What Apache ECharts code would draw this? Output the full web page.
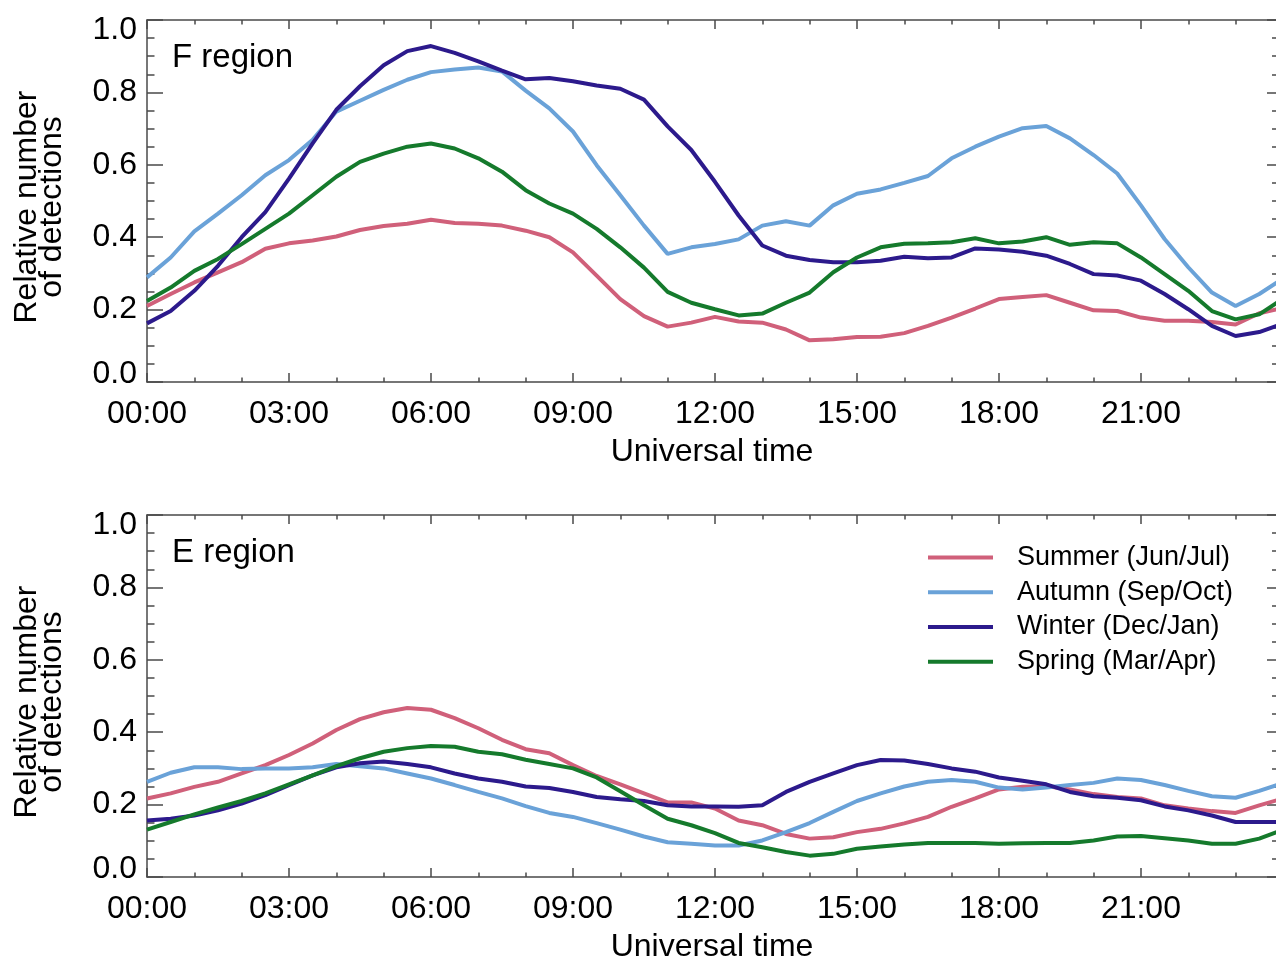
<!DOCTYPE html>
<html>
<head>
<meta charset="utf-8">
<title>Relative number of detections</title>
<script src="https://cdn.jsdelivr.net/npm/echarts@6/dist/echarts.min.js"></script>
<style>
  html, body { margin: 0; padding: 0; background: #fff; }
  #chartDiv { width: 1276px; height: 958px; }
</style>
</head>
<body>
<div id="chartDiv"></div>
<script>
// universal time (hours)
var hours = [0, 0.5, 1, 1.5, 2, 2.5, 3, 3.5, 4, 4.5, 5, 5.5, 6, 6.5, 7, 7.5, 8, 8.5, 9, 9.5,
    10, 10.5, 11, 11.5, 12, 12.5, 13, 13.5, 14, 14.5, 15, 15.5, 16, 16.5, 17, 17.5, 18, 18.5, 19, 19.5,
    20, 20.5, 21, 21.5, 22, 22.5, 23, 23.5, 23.875];

var seasonNames = ['Summer (Jun/Jul)', 'Autumn (Sep/Oct)', 'Winter (Dec/Jan)', 'Spring (Mar/Apr)'];

// F region
var fSummer = [0.210, 0.243, 0.275, 0.303, 0.331, 0.368, 0.383, 0.391, 0.402, 0.420, 0.431, 0.437, 0.448, 0.439, 0.437, 0.432, 0.418, 0.400, 0.358, 0.294,
    0.229, 0.182, 0.153, 0.164, 0.180, 0.167, 0.164, 0.145, 0.115, 0.118, 0.124, 0.125, 0.135, 0.155, 0.178, 0.203, 0.229, 0.235, 0.240, 0.219,
    0.198, 0.196, 0.178, 0.169, 0.169, 0.166, 0.159, 0.190, 0.201];
var fAutumn = [0.289, 0.344, 0.416, 0.465, 0.516, 0.571, 0.613, 0.669, 0.747, 0.777, 0.807, 0.835, 0.856, 0.863, 0.869, 0.858, 0.805, 0.756, 0.692, 0.599,
    0.516, 0.432, 0.354, 0.372, 0.381, 0.394, 0.432, 0.444, 0.432, 0.488, 0.520, 0.532, 0.550, 0.569, 0.618, 0.650, 0.678, 0.701, 0.707, 0.673,
    0.627, 0.576, 0.488, 0.395, 0.317, 0.247, 0.210, 0.243, 0.275];
var fWinter = [0.162, 0.196, 0.252, 0.321, 0.400, 0.469, 0.562, 0.659, 0.752, 0.817, 0.875, 0.914, 0.928, 0.909, 0.886, 0.860, 0.836, 0.840, 0.831, 0.819,
    0.810, 0.780, 0.706, 0.641, 0.553, 0.460, 0.377, 0.349, 0.337, 0.331, 0.331, 0.335, 0.346, 0.342, 0.344, 0.369, 0.366, 0.360, 0.349, 0.326,
    0.298, 0.294, 0.280, 0.243, 0.201, 0.155, 0.127, 0.138, 0.155];
var fSpring = [0.224, 0.261, 0.307, 0.340, 0.381, 0.423, 0.465, 0.516, 0.567, 0.608, 0.631, 0.650, 0.659, 0.645, 0.618, 0.581, 0.530, 0.493, 0.465, 0.423,
    0.372, 0.316, 0.249, 0.219, 0.201, 0.184, 0.189, 0.219, 0.247, 0.303, 0.344, 0.372, 0.382, 0.383, 0.386, 0.397, 0.383, 0.388, 0.400, 0.379,
    0.386, 0.383, 0.344, 0.298, 0.252, 0.196, 0.173, 0.187, 0.219];

// E region
var eSummer = [0.217, 0.231, 0.249, 0.263, 0.286, 0.309, 0.337, 0.369, 0.406, 0.436, 0.455, 0.467, 0.462, 0.439, 0.411, 0.379, 0.353, 0.342, 0.309, 0.279,
    0.256, 0.231, 0.206, 0.206, 0.189, 0.156, 0.143, 0.119, 0.106, 0.110, 0.124, 0.133, 0.148, 0.166, 0.194, 0.217, 0.242, 0.249, 0.251, 0.242,
    0.229, 0.221, 0.217, 0.198, 0.189, 0.182, 0.177, 0.198, 0.212];
var eAutumn = [0.263, 0.288, 0.303, 0.303, 0.298, 0.300, 0.300, 0.303, 0.312, 0.306, 0.300, 0.286, 0.272, 0.254, 0.235, 0.217, 0.196, 0.177, 0.166, 0.149,
    0.131, 0.112, 0.096, 0.092, 0.087, 0.087, 0.101, 0.124, 0.149, 0.180, 0.210, 0.231, 0.250, 0.263, 0.268, 0.263, 0.247, 0.242, 0.247, 0.254,
    0.260, 0.272, 0.268, 0.254, 0.238, 0.223, 0.219, 0.238, 0.254];
var eWinter = [0.156, 0.161, 0.170, 0.184, 0.203, 0.226, 0.254, 0.281, 0.303, 0.314, 0.319, 0.312, 0.303, 0.286, 0.272, 0.263, 0.250, 0.246, 0.235, 0.221,
    0.215, 0.210, 0.198, 0.195, 0.195, 0.194, 0.198, 0.235, 0.263, 0.286, 0.309, 0.323, 0.322, 0.312, 0.300, 0.291, 0.275, 0.266, 0.256, 0.235,
    0.223, 0.219, 0.212, 0.195, 0.184, 0.170, 0.152, 0.152, 0.152];
var eSpring = [0.131, 0.152, 0.173, 0.192, 0.210, 0.231, 0.256, 0.281, 0.306, 0.328, 0.346, 0.356, 0.362, 0.360, 0.346, 0.339, 0.324, 0.312, 0.300, 0.275,
    0.237, 0.198, 0.161, 0.143, 0.121, 0.094, 0.082, 0.069, 0.059, 0.064, 0.078, 0.084, 0.090, 0.094, 0.094, 0.094, 0.092, 0.093, 0.094, 0.094,
    0.101, 0.112, 0.113, 0.107, 0.101, 0.092, 0.092, 0.106, 0.124];

var colors = ['#d0607a', '#6aa2d8', '#2c1a8c', '#157a2c'];
var font = 'Liberation Sans';
var axisColor = '#4a4a4a';

function pairs(values){
    var out = [];
    for(var i = 0; i < hours.length; i++){
        out.push([hours[i], values[i]]);
    }
    return out;
}

function pad2(n){
    return (n < 10 ? '0' : '') + n;
}

function yLabel(v){
    // IDL keeps the end labels inside the frame
    if(v >= 0.999) return '{top|1.0}';
    if(v <= 0.001) return '{bot|0.0}';
    return v.toFixed(1);
}

var yRich = {
    top: {fontFamily: font, fontSize: 32, color: '#000', padding: [20, 0, 0, 0]},
    bot: {fontFamily: font, fontSize: 32, color: '#000', padding: [0, 0, 16, 0]}
};

function bottomXAxis(gridIndex){
    return {
        type: 'value', gridIndex: gridIndex, position: 'bottom',
        min: 0, max: 23.875, interval: 3,
        name: 'Universal time', nameLocation: 'middle', nameGap: 54,
        nameTextStyle: {fontFamily: font, fontSize: 32, color: '#000'},
        axisLine: {show: true, onZero: false, lineStyle: {color: axisColor, width: 1.5}},
        axisTick: {show: true, inside: true, length: 9, lineStyle: {color: axisColor, width: 1.5}},
        minorTick: {show: true, splitNumber: 3, length: 4.5, lineStyle: {color: axisColor, width: 1.5}},
        splitLine: {show: false},
        axisLabel: {
            fontFamily: font, fontSize: 32, color: '#000', margin: 16,
            showMaxLabel: false,
            formatter: function(v){ return pad2(Math.round(v)) + ':00'; }
        }
    };
}

function topXAxis(gridIndex){
    return {
        type: 'value', gridIndex: gridIndex, position: 'top',
        min: 0, max: 23.875, interval: 3,
        axisLine: {show: true, onZero: false, lineStyle: {color: axisColor, width: 1.5}},
        axisTick: {show: true, inside: true, length: 9, lineStyle: {color: axisColor, width: 1.5}},
        minorTick: {show: true, splitNumber: 3, length: 4.5, lineStyle: {color: axisColor, width: 1.5}},
        splitLine: {show: false},
        axisLabel: {show: false}
    };
}

function leftYAxis(gridIndex){
    return {
        type: 'value', gridIndex: gridIndex, position: 'left',
        min: 0, max: 1, interval: 0.2,
        name: 'Relative number\nof detections', nameLocation: 'middle', nameGap: 82,
        nameTextStyle: {fontFamily: font, fontSize: 32, lineHeight: 25, color: '#000', align: 'center', padding: [0, 12, 0, 0]},
        axisLine: {show: true, onZero: false, lineStyle: {color: axisColor, width: 1.5}},
        axisTick: {show: true, inside: true, length: 16, lineStyle: {color: axisColor, width: 1.5}},
        minorTick: {show: true, splitNumber: 4, length: 7.5, lineStyle: {color: axisColor, width: 1.5}},
        splitLine: {show: false},
        axisLabel: {fontFamily: font, fontSize: 32, color: '#000', margin: 10, formatter: yLabel, rich: yRich}
    };
}

function rightYAxis(gridIndex){
    return {
        type: 'value', gridIndex: gridIndex, position: 'right',
        min: 0, max: 1, interval: 0.2,
        axisLine: {show: true, onZero: false, lineStyle: {color: axisColor, width: 1.5}},
        axisTick: {show: true, inside: true, length: 10, lineStyle: {color: axisColor, width: 1.5}},
        minorTick: {show: true, splitNumber: 4, length: 5, lineStyle: {color: axisColor, width: 1.5}},
        splitLine: {show: false},
        axisLabel: {show: false}
    };
}

function lineSeries(name, values, color, axisIndex){
    return {
        name: name, type: 'line',
        xAxisIndex: axisIndex, yAxisIndex: axisIndex,
        data: pairs(values),
        showSymbol: false, symbol: 'none',
        smooth: false,
        lineStyle: {color: color, width: 4},
        itemStyle: {color: color},
        z: 3
    };
}

function drawChart(){
    var chart = echarts.init(document.getElementById('chartDiv'), null, {renderer: 'canvas'});
    var fData = [fSummer, fAutumn, fWinter, fSpring];
    var eData = [eSummer, eAutumn, eWinter, eSpring];
    var series = [];
    for(var i = 0; i < seasonNames.length; i++){
        series.push(lineSeries(seasonNames[i], fData[i], colors[i], 0));
    }
    for(var j = 0; j < seasonNames.length; j++){
        series.push(lineSeries(seasonNames[j], eData[j], colors[j], 2));
    }
    var option = {
        animation: false,
        backgroundColor: '#fff',
        title: [
            {text: 'F region', left: 172, top: 41, padding: 0,
             textStyle: {fontFamily: font, fontSize: 33, fontWeight: 'normal', color: '#000', lineHeight: 33}},
            {text: 'E region', left: 172, top: 536, padding: 0,
             textStyle: {fontFamily: font, fontSize: 33, fontWeight: 'normal', color: '#000', lineHeight: 33}}
        ],
        legend: {
            data: seasonNames,
            orient: 'vertical',
            left: 928, top: 540, padding: 0,
            itemWidth: 65, itemHeight: 4, itemGap: 0,
            icon: 'rect',
            textStyle: {fontFamily: font, fontSize: 27, color: '#000', lineHeight: 34.8, padding: [0, 0, 0, 19]}
        },
        grid: [
            {left: 147, top: 20, width: 1130, height: 362, outerBoundsMode: 'none', containLabel: false},
            {left: 147, top: 515, width: 1130, height: 362, outerBoundsMode: 'none', containLabel: false}
        ],
        xAxis: [bottomXAxis(0), topXAxis(0), bottomXAxis(1), topXAxis(1)],
        yAxis: [leftYAxis(0), rightYAxis(0), leftYAxis(1), rightYAxis(1)],
        series: series
    };
    chart.setOption(option);
}

drawChart();
</script>
</body>
</html>
